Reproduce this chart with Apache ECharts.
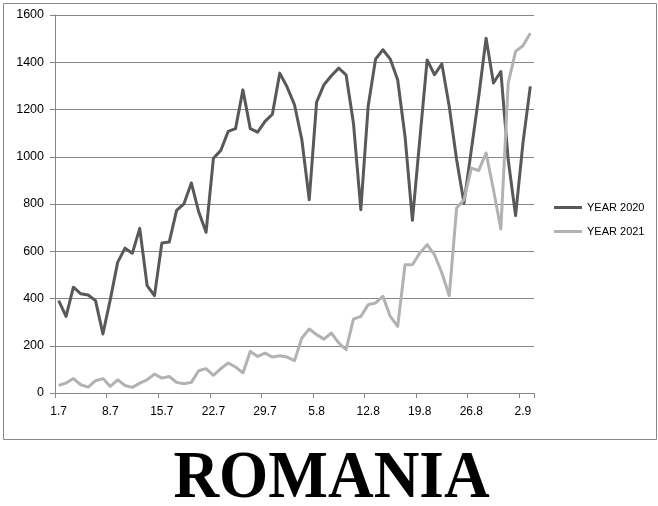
<!DOCTYPE html>
<html>
<head>
<meta charset="utf-8">
<script src="https://cdn.jsdelivr.net/npm/echarts@6/dist/echarts.min.js"></script>
<style>
html,body{margin:0;padding:0;background:#fff;}
#c{width:658px;height:506px;}
</style>
</head>
<body>
<div id="c"></div>
<script>
var categories = [
 "1.7","2.7","3.7","4.7","5.7","6.7","7.7","8.7","9.7","10.7","11.7","12.7","13.7","14.7","15.7","16.7",
 "17.7","18.7","19.7","20.7","21.7","22.7","23.7","24.7","25.7","26.7","27.7","28.7","29.7","30.7","31.7",
 "1.8","2.8","3.8","4.8","5.8","6.8","7.8","8.8","9.8","10.8","11.8","12.8","13.8","14.8","15.8","16.8",
 "17.8","18.8","19.8","20.8","21.8","22.8","23.8","24.8","25.8","26.8","27.8","28.8","29.8","30.8","31.8",
 "1.9","2.9","3.9"
];
var year2020 = [391,324,448,420,415,391,250,395,553,613,592,697,455,412,635,639,773,801,889,767,680,994,1027,1107,1119,1283,1119,1104,1150,1180,1354,1295,1220,1072,818,1231,1305,1343,1375,1347,1142,776,1215,1413,1453,1413,1326,1086,731,1072,1410,1347,1393,1213,987,804,1030,1255,1502,1312,1361,987,751,1058,1298];
var year2021 = [32,42,61,35,25,52,61,28,56,32,24,42,56,80,63,70,45,39,45,94,103,75,103,127,110,85,176,155,169,152,158,152,137,233,271,247,228,254,212,183,313,324,374,381,409,324,282,543,543,592,628,585,508,412,783,818,952,942,1016,860,694,1312,1446,1470,1523];
var seriesNames = ["YEAR 2020","YEAR 2021"];
var titleText = "ROMANIA";

var chart = echarts.init(document.getElementById('c'), null, {renderer:'canvas'});
var gridColor = '#868686';
chart.setOption({
  animation:false,
  backgroundColor:'#fff',
  grid:{left:55,right:124,top:15,bottom:113},
  legend:{
    orient:'vertical', left:554, top:202, itemGap:13, padding:0,
    icon:'rect', itemWidth:28, itemHeight:3,
    textStyle:{fontFamily:'Liberation Sans', fontSize:11, color:'#000'},
    data:seriesNames
  },
  xAxis:{
    type:'category', data:categories, boundaryGap:true,
    axisLine:{lineStyle:{color:gridColor,width:1}},
    axisTick:{show:true, interval:6, alignWithLabel:false, length:5, lineStyle:{color:gridColor}},
    axisLabel:{interval:6, margin:13, color:'#000', fontFamily:'Liberation Sans', fontSize:12},
    splitLine:{show:false}
  },
  yAxis:{
    type:'value', min:0, max:1600, interval:200,
    axisLine:{show:true, lineStyle:{color:gridColor,width:1}},
    axisTick:{show:true, length:5, lineStyle:{color:gridColor}},
    axisLabel:{margin:11, color:'#000', fontFamily:'Liberation Sans', fontSize:12.5,
      formatter:function(v){return String(v);}},
    splitLine:{show:true, lineStyle:{color:gridColor,width:1}}
  },
  series:[
    {name:seriesNames[0], type:'line', data:year2020, showSymbol:false, symbol:'none',
     lineStyle:{color:'#595959', width:3, join:'round'}, itemStyle:{color:'#595959'}},
    {name:seriesNames[1], type:'line', data:year2021, showSymbol:false, symbol:'none',
     lineStyle:{color:'#b2b2b2', width:3, join:'round'}, itemStyle:{color:'#b2b2b2'}}
  ],
  graphic:[
    {type:'rect', left:1, top:1, silent:true, z:-1,
     shape:{x:0,y:0,width:653,height:436},
     style:{fill:'none', stroke:'#888', lineWidth:1}},
    {type:'text', x:331.5, y:479, scaleX:0.93, silent:true,
     style:{text:titleText, fill:'#000', font:'bold 68px "Liberation Serif"', align:'center', verticalAlign:'middle'}}
  ]
});
</script>
</body>
</html>
